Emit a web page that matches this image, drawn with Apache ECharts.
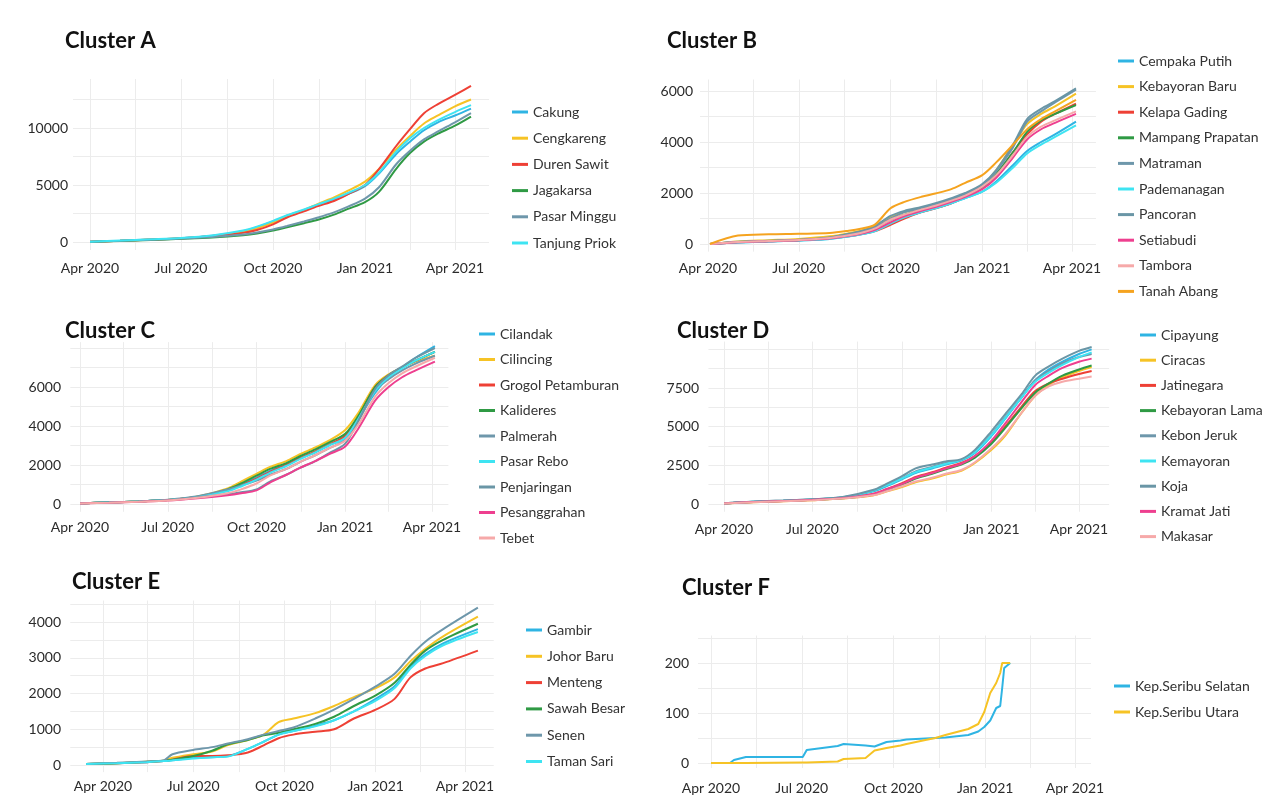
<!DOCTYPE html>
<html><head><meta charset="utf-8">
<script src="https://cdn.jsdelivr.net/npm/echarts@6/dist/echarts.min.js"></script>
<style>html,body{margin:0;padding:0;background:#fff}#c{width:1279px;height:810px}</style>
</head><body><div id="c"></div>
<script>
// ---------------- DATA ----------------
const xTickLabels = ['2020-04-01','2020-07-01','2020-10-01','2021-01-01','2021-04-01'];
const xMinorLines = ['2020-05-16','2020-08-16','2020-11-16','2021-02-15'];

// Cluster A
const namesA = ['Cakung','Cengkareng','Duren Sawit','Jagakarsa','Pasar Minggu','Tanjung Priok'];
const datesA = ['2020-04-01','2020-05-01','2020-06-01','2020-07-01','2020-08-01','2020-09-01','2020-09-15','2020-10-01','2020-10-15','2020-11-01','2020-11-15','2020-12-01','2020-12-15','2021-01-01','2021-01-15','2021-02-01','2021-02-15','2021-03-01','2021-03-15','2021-04-01','2021-04-17'];
const cakung       = [20,120,230,340,550,950,1300,1800,2300,2800,3250,3700,4200,4900,6000,7700,8800,9800,10500,11100,11700];
const cengkareng   = [15,100,210,320,500,850,1200,1700,2250,2800,3350,3900,4500,5300,6400,8100,9300,10400,11100,11900,12500];
const durenSawit   = [20,110,220,330,520,800,1050,1550,2150,2700,3150,3600,4200,5000,6400,8400,9900,11300,12100,12900,13700];
const jagakarsa    = [10,90,180,280,400,600,750,1000,1300,1650,1950,2400,2900,3500,4400,6400,7800,8800,9500,10200,11000];
const pasarMinggu  = [15,100,200,300,430,650,830,1100,1400,1800,2150,2600,3100,3800,4800,6800,8000,9000,9700,10500,11300];
const tanjungPriok = [20,130,240,360,580,1000,1350,1850,2350,2850,3300,3800,4300,5000,6100,7900,9100,10000,10700,11400,12000];
const yLabelsA = [0,5000,10000];

// Cluster B
const namesB = ['Cempaka Putih','Kebayoran Baru','Kelapa Gading','Mampang Prapatan','Matraman','Pademanagan','Pancoran','Setiabudi','Tambora','Tanah Abang'];
const datesB = ['2020-04-03','2020-05-01','2020-06-01','2020-07-01','2020-08-01','2020-08-20','2020-09-01','2020-09-15','2020-10-01','2020-10-15','2020-11-01','2020-11-15','2020-12-01','2020-12-15','2021-01-01','2021-01-15','2021-02-01','2021-02-15','2021-03-01','2021-03-15','2021-04-05'];
const cempakaPutih    = [0,60,100,140,200,300,380,520,820,1050,1250,1400,1600,1800,2050,2450,3100,3650,4000,4300,4800];
const kebayoranBaru   = [0,100,150,200,300,420,520,700,1050,1250,1400,1550,1750,1950,2300,2900,3900,4700,5100,5400,5900];
const kelapaGading    = [0,70,110,150,220,300,380,500,750,1000,1250,1400,1600,1850,2200,2700,3600,4300,4800,5100,5500];
const mampangPrapatan = [0,80,120,160,240,350,450,600,950,1150,1350,1500,1700,1900,2200,2750,3600,4400,4850,5100,5450];
const matraman        = [0,90,130,170,260,380,480,650,1000,1250,1400,1550,1750,1950,2300,2850,3800,4800,5200,5550,6050];
const pademanagan     = [0,60,100,140,200,290,370,500,800,1050,1250,1400,1600,1800,2050,2400,3000,3550,3900,4200,4650];
const pancoran        = [0,80,120,150,250,400,500,700,1100,1300,1450,1600,1800,2000,2350,2900,3900,4900,5300,5600,6100];
const setiabudi       = [0,70,110,150,220,320,400,550,850,1100,1300,1450,1650,1850,2150,2600,3400,4100,4500,4750,5100];
const tambora         = [0,80,120,160,240,340,430,600,950,1150,1350,1500,1700,1900,2250,2700,3500,4200,4600,4850,5200];
const tanahAbang      = [0,330,380,400,430,520,600,750,1400,1650,1850,1980,2150,2400,2700,3200,3900,4500,4900,5200,5650];
const yLabelsB = [0,2000,4000,6000];

// Cluster C
const namesC = ['Cilandak','Cilincing','Grogol Petamburan','Kalideres','Palmerah','Pasar Rebo','Penjaringan','Pesanggrahan','Tebet'];
const datesC = ['2020-04-01','2020-05-01','2020-06-01','2020-07-01','2020-08-01','2020-09-01','2020-09-15','2020-10-01','2020-10-15','2020-11-01','2020-11-15','2020-12-01','2020-12-15','2021-01-01','2021-01-15','2021-02-01','2021-02-15','2021-03-01','2021-03-15','2021-04-04'];
const cilandak     = [30,80,130,200,350,700,1000,1350,1700,2050,2350,2650,3000,3400,4400,5700,6500,7000,7500,8100];
const cilincing    = [30,80,130,200,380,800,1150,1550,1900,2200,2550,2900,3250,3800,4700,6100,6650,7000,7300,7600];
const grogol       = [30,80,130,200,360,700,950,1300,1650,2000,2350,2700,3050,3500,4500,6000,6600,7000,7350,7800];
const kalideres    = [30,80,130,200,370,750,1050,1450,1800,2100,2450,2800,3150,3600,4550,6000,6600,7000,7350,7800];
const palmerah     = [30,80,130,220,400,750,950,1200,1500,1800,2150,2500,2850,3300,4300,5800,6400,6850,7200,7600];
const pasarRebo    = [30,80,130,200,350,650,900,1250,1600,1950,2300,2650,3000,3400,4400,5800,6500,6950,7350,7800];
const penjaringan  = [30,80,130,200,350,500,600,750,1150,1500,1850,2200,2600,3100,4300,5900,6600,7050,7500,8000];
const pesanggrahan = [30,70,120,180,300,450,550,700,1100,1500,1850,2200,2550,2950,3900,5300,6000,6500,6850,7300];
const tebet        = [30,70,120,180,320,550,750,1050,1450,1800,2150,2500,2850,3250,4100,5500,6200,6700,7050,7500];
const yLabelsC = [0,2000,4000,6000];

// Cluster D
const namesD = ['Cipayung','Ciracas','Jatinegara','Kebayoran Lama','Kebon Jeruk','Kemayoran','Koja','Kramat Jati','Makasar'];
const datesD = ['2020-04-01','2020-05-01','2020-06-01','2020-07-01','2020-08-01','2020-09-01','2020-09-15','2020-10-01','2020-10-15','2020-11-01','2020-11-15','2020-12-01','2020-12-15','2021-01-01','2021-01-15','2021-02-01','2021-02-15','2021-03-01','2021-03-15','2021-04-01','2021-04-14'];
const cipayung      = [40,140,210,290,420,800,1150,1600,2000,2300,2550,2800,3300,4400,5500,6900,8000,8700,9200,9700,10000];
const ciracas       = [30,110,180,250,350,550,800,1100,1400,1650,1900,2150,2650,3500,4400,5900,7000,7700,8200,8600,8850];
const jatinegara    = [40,130,200,270,380,650,950,1350,1750,2050,2350,2650,3100,4000,5000,6300,7300,7800,8100,8400,8600];
const kebayoranLama = [40,130,200,270,370,600,900,1250,1650,1950,2250,2550,3000,3900,4900,6200,7200,7800,8300,8700,8950];
const kebonJeruk    = [50,150,220,300,430,850,1200,1650,2100,2400,2650,2850,3400,4500,5600,6900,8000,8600,9100,9500,9700];
const kemayoran     = [40,140,210,290,430,850,1200,1650,2050,2350,2600,2850,3350,4450,5550,6900,7900,8500,9000,9500,9800];
const koja          = [50,150,220,300,450,900,1300,1800,2300,2550,2750,2900,3500,4700,5800,7100,8300,8900,9400,9900,10150];
const kramatJati    = [40,130,200,270,380,650,950,1300,1700,2000,2300,2600,3100,4100,5200,6600,7700,8300,8800,9200,9400];
const makasar       = [30,110,180,250,350,560,820,1150,1450,1700,1950,2200,2700,3600,4500,5900,7000,7600,7900,8100,8250];
const yLabelsD = [0,2500,5000,7500];

// Cluster E
const namesE = ['Gambir','Johor Baru','Menteng','Sawah Besar','Senen','Taman Sari'];
const datesE = ['2020-03-15','2020-04-15','2020-05-15','2020-06-01','2020-06-10','2020-07-01','2020-07-20','2020-08-05','2020-08-25','2020-09-10','2020-09-25','2020-10-10','2020-11-01','2020-11-20','2020-12-10','2021-01-01','2021-01-20','2021-02-05','2021-02-20','2021-03-10','2021-04-14'];
const gambir     = [30,50,80,110,130,200,220,250,450,650,850,950,1100,1250,1500,1850,2200,2750,3100,3400,3800];
const johorBaru  = [30,50,90,120,200,300,380,560,700,850,1200,1300,1450,1650,1900,2150,2450,2900,3250,3600,4150];
const menteng    = [30,50,80,110,150,250,250,270,350,550,750,850,930,1000,1300,1550,1850,2450,2700,2850,3200];
const sawahBesar = [30,50,90,120,150,250,400,580,700,830,900,1000,1150,1350,1650,1950,2300,2800,3200,3500,3950];
const senen      = [30,60,100,130,300,420,500,600,720,850,950,1050,1300,1550,1850,2200,2550,3050,3450,3800,4400];
const tamanSari  = [30,50,80,110,130,180,220,240,450,650,850,950,1080,1250,1500,1800,2150,2700,3050,3350,3720];
const yLabelsE = [0,1000,2000,3000,4000];

// Cluster F
const namesF = ['Kep.Seribu Selatan','Kep.Seribu Utara'];
const datesF = ['2020-04-01','2020-04-20','2020-04-24','2020-05-06','2020-07-02','2020-07-06','2020-08-06','2020-08-12','2020-09-03','2020-09-12','2020-09-24','2020-10-08','2020-10-14','2020-11-02','2020-11-12','2020-11-22','2020-12-15','2020-12-25','2020-12-31','2021-01-06','2021-01-12','2021-01-16','2021-01-18','2021-01-20','2021-01-26'];
const seribuSelatan = [0,0,6,12,12,26,34,38,35,33,42,45,47,49,50,51,56,63,72,85,110,114,150,190,200];
const seribuUtara   = [0,0,0,0,1,1,3,8,10,25,30,35,38,46,50,56,68,78,102,140,160,180,200,200,200];
const yLabelsF = [0,100,200];

// ---------------- STYLE / LAYOUT ----------------
const PAL = ['#2fb4e3','#f6c325','#ee4035','#2f9a44','#6e97ab','#3ee4f2','#6a96a6','#ee3f8f','#f6a9a9','#f5a31f'];
const FONT = 'Lato';
const MONTHS = ['Jan','Feb','Mar','Apr','May','Jun','Jul','Aug','Sep','Oct','Nov','Dec'];
const T = s => Date.UTC(+s.slice(0,4), +s.slice(5,7)-1, +s.slice(8,10));

const panels = [
 {title:'Cluster A', names:namesA, dates:datesA, values:[cakung,cengkareng,durenSawit,jagakarsa,pasarMinggu,tanjungPriok], yLabels:yLabelsA,
  L:{x0:90,x1:455,xMin:'2020-03-15',xMax:'2021-05-05',y0:242,yRef:[10000,128],yMin:-700,yMax:14300,yStep:2500,yLabRight:68,xLabY:268,tx:65,ty:41,lx:533,ly:112,lg:26.2,colors:[0,1,2,3,4,5]}},
 {title:'Cluster B', names:namesB, dates:datesB, values:[cempakaPutih,kebayoranBaru,kelapaGading,mampangPrapatan,matraman,pademanagan,pancoran,setiabudi,tambora,tanahAbang], yLabels:yLabelsB,
  L:{x0:708,x1:1072,xMin:'2020-03-24',xMax:'2021-04-25',y0:244,yRef:[6000,91],yMin:-300,yMax:6450,yStep:1000,yLabRight:693,xLabY:268,tx:667,ty:41,lx:1139,ly:61,lg:25.6,colors:[0,1,2,3,4,5,6,7,8,9]}},
 {title:'Cluster C', names:namesC, dates:datesC, values:[cilandak,cilincing,grogol,kalideres,palmerah,pasarRebo,penjaringan,pesanggrahan,tebet], yLabels:yLabelsC,
  L:{x0:80,x1:432,xMin:'2020-03-22',xMax:'2021-04-18',y0:504,yRef:[6000,387],yMin:-400,yMax:8300,yStep:1000,yLabRight:61,xLabY:527,tx:65,ty:331,lx:500,ly:334,lg:25.5,colors:[0,1,2,3,4,5,6,7,8]}},
 {title:'Cluster D', names:namesD, dates:datesD, values:[cipayung,ciracas,jatinegara,kebayoranLama,kebonJeruk,kemayoran,koja,kramatJati,makasar], yLabels:yLabelsD,
  L:{x0:724,x1:1079,xMin:'2020-03-16',xMax:'2021-05-02',y0:504,yRef:[7500,388],yMin:-500,yMax:10500,yStep:1250,yLabRight:699,xLabY:529,tx:677,ty:331,lx:1161,ly:335,lg:25.2,colors:[0,1,2,3,4,5,6,7,8]}},
 {title:'Cluster E', names:namesE, dates:datesE, values:[gambir,johorBaru,menteng,sawahBesar,senen,tamanSari], yLabels:yLabelsE,
  L:{x0:103,x1:465,xMin:'2020-02-28',xMax:'2021-04-30',y0:765,yRef:[4000,622],yMin:-200,yMax:4600,yStep:500,yLabRight:61,xLabY:786,tx:72,ty:582,lx:547,ly:630,lg:26.3,colors:[0,1,2,3,4,5]}},
 {title:'Cluster F', names:namesF, dates:datesF, values:[seribuSelatan,seribuUtara], yLabels:yLabelsF,
  L:{x0:711,x1:1075,xMin:'2020-03-19',xMax:'2021-04-17',y0:763,yRef:[200,663],yMin:-10,yMax:255,yStep:50,yLabRight:689,xLabY:788,tx:682,ty:588,lx:1135,ly:686,lg:26,colors:[0,1],noSmooth:true}}
];

const grid=[], xAxis=[], yAxis=[], title=[], legend=[], series=[];
const A0 = T('2020-04-01'), A1 = T('2021-04-01');
const xLabVals = xTickLabels.map(T);
const xLineVals = xTickLabels.concat(xMinorLines).map(T).sort((a,b)=>a-b);

panels.forEach((p,i)=>{
  const L = p.L;
  const sx = (L.x1-L.x0)/(A1-A0);
  const left = L.x0-(A0-T(L.xMin))*sx;
  const width = (T(L.xMax)-T(L.xMin))*sx;
  const sy = (L.y0-L.yRef[1])/L.yRef[0];
  const top = L.y0-L.yMax*sy;
  const height = (L.yMax-L.yMin)*sy;
  grid.push({left:left, top:top, width:width, height:height, containLabel:false});
  const ySplits=[]; for(let v=0; v<=L.yMax; v+=L.yStep) ySplits.push(v);
  xAxis.push({type:'value', gridIndex:i, min:T(L.xMin), max:T(L.xMax), scale:true,
    axisLine:{show:false}, axisTick:{show:false, customValues:xLineVals},
    splitLine:{show:true, lineStyle:{color:'#ececec', width:1}},
    axisLabel:{customValues:xLabVals, margin:L.xLabY-8-(top+height), fontSize:14, lineHeight:16, color:'#2b2b2b', fontFamily:FONT,
      formatter:(v)=>{const d=new Date(v); return MONTHS[d.getUTCMonth()]+' '+d.getUTCFullYear();}}});
  yAxis.push({type:'value', gridIndex:i, min:L.yMin, max:L.yMax,
    axisLine:{show:false}, axisTick:{show:false, customValues:ySplits},
    splitLine:{show:true, lineStyle:{color:'#ececec', width:1}},
    axisLabel:{customValues:p.yLabels, margin:left-L.yLabRight, fontSize:14, color:'#2b2b2b', fontFamily:FONT,
      formatter:(v)=>String(Math.round(v))}});
  title.push({text:p.title, left:L.tx, top:L.ty-13, padding:0,
    textStyle:{fontSize:22, lineHeight:26, fontWeight:'bold', color:'#111', fontFamily:FONT}});
  legend.push({orient:'vertical', left:L.lx-5-16, top:L.ly-8, padding:0, itemGap:L.lg-16,
    itemWidth:16, itemHeight:3, icon:'rect', data:p.names, selectedMode:false,
    textStyle:{fontSize:14, lineHeight:16, color:'#333', fontFamily:FONT}});
  p.names.forEach((nm,k)=>{
    const vals=p.values[k];
    series.push({name:nm, type:'line', xAxisIndex:i, yAxisIndex:i, showSymbol:false, symbol:'none',
      smooth: L.noSmooth ? false : 0.3,
      color:PAL[L.colors[k]], lineStyle:{width:2, color:PAL[L.colors[k]]},
      emphasis:{disabled:true},
      data:p.dates.map((d,j)=>[T(d), vals[j]])});
  });
});

const chart = echarts.init(document.getElementById('c'), null, {renderer:'canvas'});
chart.setOption({backgroundColor:'#fff', animation:false, textStyle:{fontFamily:FONT},
  grid, xAxis, yAxis, title, legend, series});
</script></body></html>
